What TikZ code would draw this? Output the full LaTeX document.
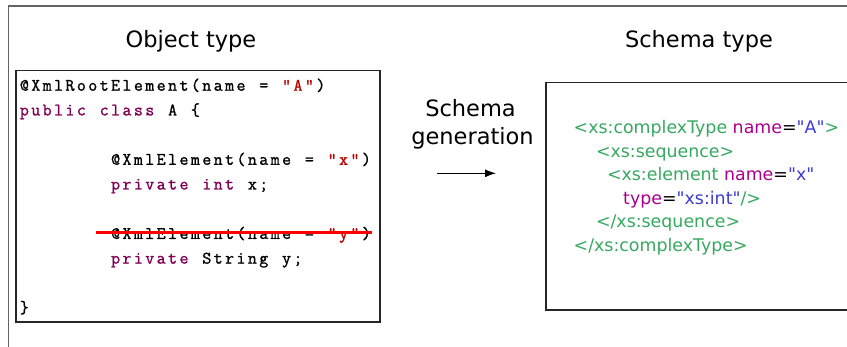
\documentclass[tikz,border=0pt]{standalone}
\usepackage{fontspec}
\setmainfont{DejaVu Sans}
\newfontfamily\xmlfont{DejaVu Sans}[Ligatures=TeXOff]
\setmonofont{Latin Modern Mono}[FakeBold=1.2]
\usetikzlibrary{arrows.meta}
\definecolor{kw}{RGB}{127,0,85}
\definecolor{strc}{RGB}{185,0,0}
\definecolor{xg}{RGB}{55,168,95}
\definecolor{xm}{RGB}{170,0,140}
\definecolor{xb}{RGB}{60,60,210}
\definecolor{framegray}{RGB}{100,100,100}
\newlength\cw \setlength\cw{11.4pt}
\ExplSyntaxOn
\NewDocumentCommand\cseg{m}{\str_map_inline:nn{#1}{\makebox[\cw]{##1}}}
\ExplSyntaxOff
\newcommand\cbl{\makebox[\cw]{\char`\{}}
\newcommand\cbr{\makebox[\cw]{\char`\}}}
\tikzset{
  titletext/.style={anchor=base, inner sep=0pt, font=\fontsize{22.5}{27}\selectfont},
  codeline/.style={anchor=base west, inner sep=0pt, font=\ttfamily\fontsize{17.5}{21}\selectfont},
  xmlline/.style={anchor=base west, inner sep=0pt, font=\xmlfont\fontsize{17.4}{20}\selectfont},
  boxstyle/.style={draw=black!85, line width=1.3pt, inner sep=0pt},
  outerframe/.style={draw=framegray, line width=1.2pt},
  strike/.style={draw=red, line width=2.6pt},
  arr/.style={draw=black, line width=1pt, -{Latex[length=11pt,width=8pt]}},
}
\begin{document}
\begin{tikzpicture}[x=1pt,y=-1pt]
\useasboundingbox (0,0) rectangle (847,347);
% outer frame
\draw[outerframe] (8.5,420) -- (8.5,6) -- (920,6);
% titles
\node[titletext] (ot) at (191,47.7) {Object type};
\node[titletext] (st) at (699,48) {Schema type};
% code box
\node[boxstyle, minimum width=364pt, minimum height=251.3pt] (codebox) at (198,196.35) {};
\node[codeline] (l1) at (18.5,90.7) {\cseg{@XmlRootElement(name = }\textcolor{strc}{\cseg{"A"}}\cseg{)}};
\node[codeline] (l2) at (18.5,115.4) {\textcolor{kw}{\cseg{public}}\cseg{ }\textcolor{kw}{\cseg{class}}\cseg{ A }\cbl};
\node[codeline] (l4) at (109.7,164.8) {\cseg{@XmlElement(name = }\textcolor{strc}{\cseg{"x"}}\cseg{)}};
\node[codeline] (l5) at (109.7,189.5) {\textcolor{kw}{\cseg{private}}\cseg{ }\textcolor{kw}{\cseg{int}}\cseg{ x;}};
\node[codeline] (l7) at (109.7,238.9) {\cseg{@XmlElement(name = }\textcolor{strc}{\cseg{"y"}}\cseg{)}};
\node[codeline] (l8) at (109.7,263.6) {\textcolor{kw}{\cseg{private}}\cseg{ String y;}};
\node[codeline] (l10) at (18.5,313) {\cbr};
\draw[strike] (96,232.7) -- (372,232.7);
% schema generation
\node[titletext] (sg1) at (470.5,116.7) {Schema};
\node[titletext] (sg2) at (472.5,145) {generation};
\coordinate (as) at (437,173.3);
\coordinate (ae) at (496,173.3);
\draw[arr] (as) -- (ae);
% schema box
\node[boxstyle, minimum width=360pt, minimum height=227.7pt] (schemabox) at (726,196.15) {};
\node[xmlline] (x1) at (573.5,134) {\textcolor{xg}{<xs:complexType} \textcolor{xm}{name}=\textcolor{xb}{"A"}\textcolor{xg}{>}};
\node[xmlline] (x2) at (595.8,157.7) {\textcolor{xg}{<xs:sequence>}};
\node[xmlline] (x3) at (606.8,181) {\textcolor{xg}{<xs:element} \textcolor{xm}{name}=\textcolor{xb}{"x"}};
\node[xmlline] (x4) at (623,204.5) {\textcolor{xm}{type}=\textcolor{xb}{"xs:int"}\textcolor{xg}{/>}};
\node[xmlline] (x5) at (595.8,228) {\textcolor{xg}{</xs:sequence>}};
\node[xmlline] (x6) at (573.5,252) {\textcolor{xg}{</xs:complexType>}};
\end{tikzpicture}
\end{document}
